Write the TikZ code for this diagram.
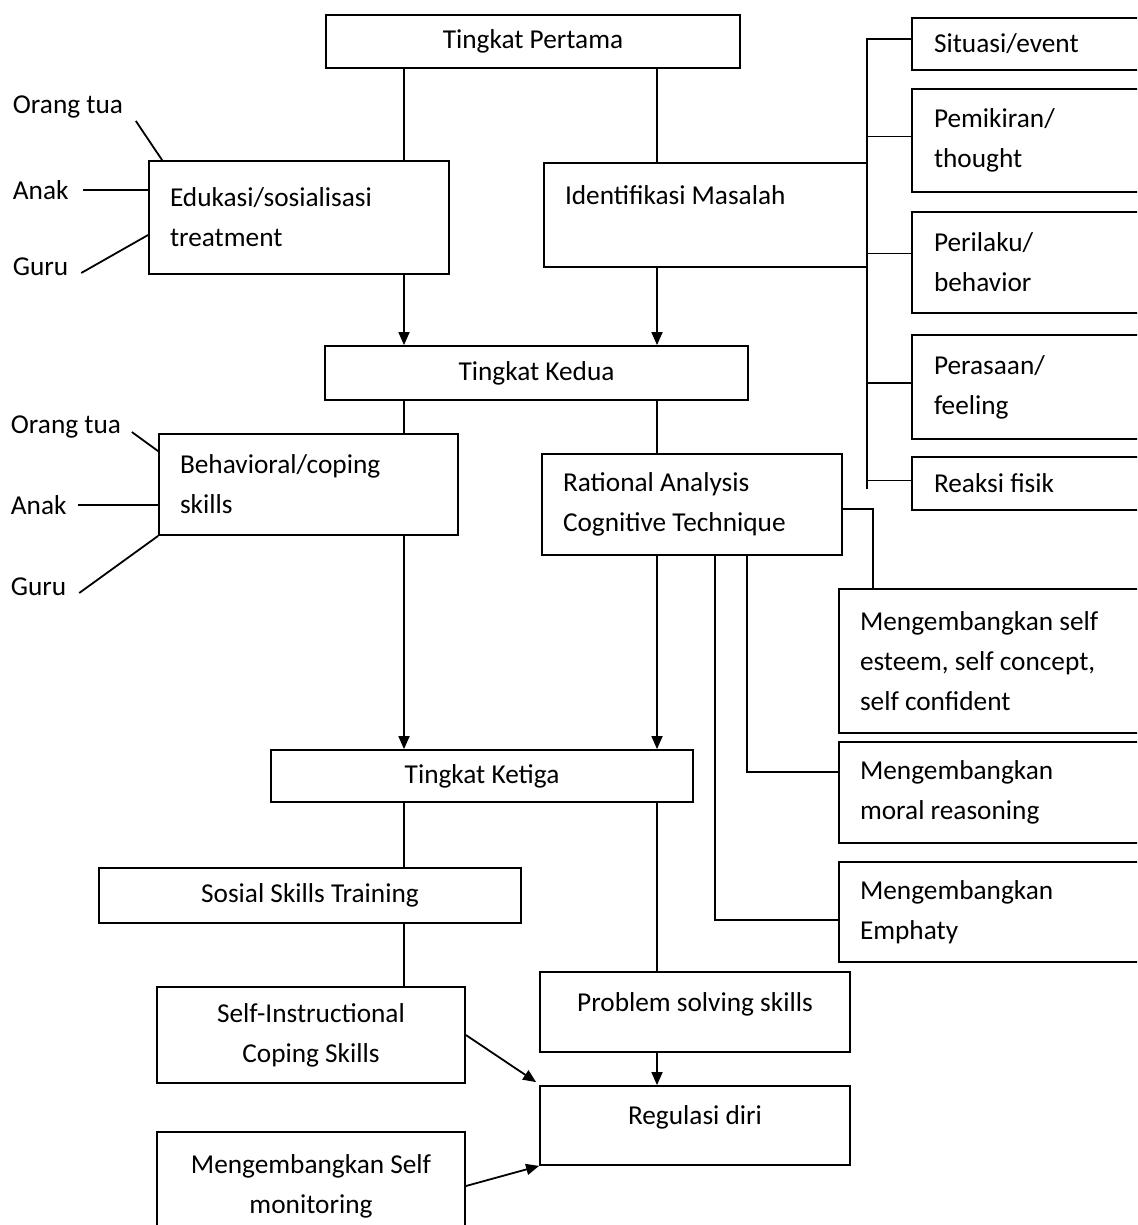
\documentclass[tikz,border=0pt]{standalone}
\usepackage{fontspec}
\setmainfont{Carlito}
\usetikzlibrary{arrows.meta,positioning}

\begin{document}
\begin{tikzpicture}[x=1pt, y=-1pt,
    >={Triangle[length=13pt,width=11pt]},
    line width=1.8pt,
    every node/.append style={font=\fontsize{27.3}{40}\selectfont},
    kotak/.style={draw, inner sep=0pt, align=left, execute at begin node={\spaceskip=0pt\relax}},
    kotaktengah/.style={draw, inner sep=0pt, align=center},
    pihak/.style={anchor=west, inner sep=0pt}]
   \useasboundingbox (0,0) rectangle (1137,1225);
   \clip (0,0) rectangle (1137,1225);

   % spines
   \coordinate (lx) at (404,0);
   \coordinate (rx) at (657,0);
   \coordinate (bus) at (867,0);
   \coordinate (ex) at (873,0);

   \node [kotaktengah, minimum width=414pt, minimum height=53pt] (pertama) at (533,41.5) {Tingkat Pertama};
   \node [kotak, minimum width=300pt, minimum height=113pt, text width=258pt] (edukasi) at (299,217.5) {Edukasi/sosialisasi\\treatment};
   \node [kotak, minimum width=323pt, minimum height=104pt, text width=281pt] (identifikasi) at (705.5,215) {Identifikasi Masalah\\\mbox{}};
   \node [kotaktengah, minimum width=423pt, minimum height=54pt] (kedua) at (536.5,373) {Tingkat Kedua};
   \node [kotak, minimum width=299pt, minimum height=101pt, text width=257pt] (behavioral) at (308.5,484.5) {Behavioral/coping\\skills};
   \node [kotak, minimum width=300pt, minimum height=101pt, text width=258pt] (rational) at (692,504.5) {Rational Analysis\\Cognitive Technique};
   \node [kotaktengah, minimum width=422pt, minimum height=52pt] (ketiga) at (482,776) {Tingkat Ketiga};
   \node [kotaktengah, minimum width=422pt, minimum height=55pt] (sosial) at (310,895.5) {Sosial Skills Training};
   \node [kotaktengah, minimum width=308pt, minimum height=96pt] (selfinstr) at (311,1035) {Self-Instructional\\Coping Skills};
   \node [kotaktengah, minimum width=308pt, minimum height=108pt] (monitoring) at (311,1186) {Mengembangkan Self\\monitoring};
   \node [kotaktengah, minimum width=310pt, minimum height=80pt] (problem) at (695,1012) {Problem solving skills\\[-20pt]\mbox{}};
   \node [kotaktengah, minimum width=310pt, minimum height=79pt] (regulasi) at (695,1125.5) {Regulasi diri\\[-20pt]\mbox{}};

   % right column
   \node [kotak, minimum width=248pt, minimum height=52pt, text width=204pt] (situasi) at (1036,44) {Situasi/event};
   \node [kotak, minimum width=248pt, minimum height=103pt, text width=204pt] (pemikiran) at (1036,140.5) {Pemikiran/\\thought};
   \node [kotak, minimum width=248pt, minimum height=101pt, text width=204pt] (perilaku) at (1036,262.5) {Perilaku/\\behavior};
   \node [kotak, minimum width=248pt, minimum height=104pt, text width=204pt] (perasaan) at (1036,387) {Perasaan/\\feeling};
   \node [kotak, minimum width=248pt, minimum height=53pt, text width=204pt] (reaksi) at (1036,483.5) {Reaksi fisik};
   \node [kotak, minimum width=321pt, minimum height=144pt, text width=279pt] (esteem) at (999.5,661) {Mengembangkan self\\esteem, self concept,\\self confident};
   \node [kotak, minimum width=321pt, minimum height=101pt, text width=279pt] (moral) at (999.5,792.5) {Mengembangkan\\moral reasoning};
   \node [kotak, minimum width=321pt, minimum height=100pt, text width=279pt] (emphaty) at (999.5,912) {Mengembangkan\\Emphaty};

   % pihak
   \node [pihak] (ortu1) at (12,107) {Orang tua};
   \node [pihak] (anak1) at (12,190) {Anak};
   \node [pihak] (guru1) at (12,267) {Guru};
   \node [pihak] (ortu2) at (10,427) {Orang tua};
   \node [pihak] (anak2) at (10,505) {Anak};
   \node [pihak] (guru2) at (10,587) {Guru};

   \draw ([shift={(12pt,-14pt)}]ortu1.east) -- ([xshift=14pt]edukasi.north west);
   \draw ([xshift=14pt]anak1.east) -- (anak1.east -| edukasi.west);
   \draw ([shift={(12pt,-6pt)}]guru1.east) -- ([yshift=-17.5pt]edukasi.west);
   \draw ([shift={(10pt,-5pt)}]ortu2.east) -- ([yshift=-18pt]behavioral.north west);
   \draw ([xshift=11pt]anak2.east) -- (anak2.east -| behavioral.west);
   \draw ([shift={(12pt,-6pt)}]guru2.east) -- (behavioral.south west);

   \draw (pertama.south -| lx) -- (edukasi.north -| lx);
   \draw (pertama.south -| rx) -- (identifikasi.north -| rx);
   \draw[->] (edukasi.south -| lx) -- (kedua.north -| lx);
   \draw[->] (identifikasi.south -| rx) -- (kedua.north -| rx);
   \draw (kedua.south -| lx) -- (behavioral.north -| lx);
   \draw (kedua.south -| rx) -- (rational.north -| rx);
   \draw[->] (behavioral.south -| lx) -- (ketiga.north -| lx);
   \draw[->] (rational.south -| rx) -- (ketiga.north -| rx);
   \draw (ketiga.south -| lx) -- (sosial.north -| lx);
   \draw (sosial.south -| lx) -- (selfinstr.north -| lx);
   \draw (ketiga.south -| rx) -- (problem.north -| rx);
   \draw[->] (problem.south -| rx) -- (regulasi.north -| rx);
   \draw[->] (selfinstr.east) -- ([shift={(-3pt,3pt)}]regulasi.north west);
   \draw[->] (monitoring.east) -- (regulasi.south west);

   % bus to right column
   \draw ([yshift=5pt]situasi.west) -| ([yshift=-5pt]reaksi.west -| bus);
   \foreach \n/\d in {pemikiran/4, perilaku/9, perasaan/4, reaksi/3}
      \draw ([yshift=\d pt]\n.west) -- ([yshift=\d pt]\n.west -| bus);

   \draw ([yshift=-4.5pt]rational.east) -| (esteem.north -| ex);
   \draw ([xshift=55pt]rational.south) |- ([yshift=20.5pt]moral.west);
   \draw ([xshift=23pt]rational.south) |- ([yshift=-8pt]emphaty.west);
\end{tikzpicture}
\end{document}
